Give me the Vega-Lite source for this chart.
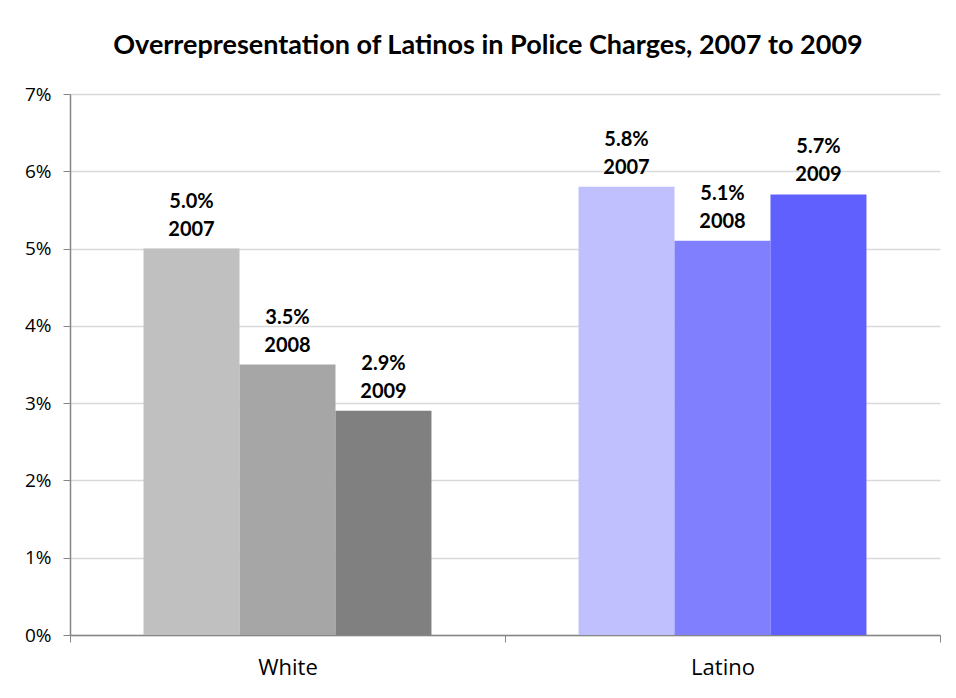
{
  "$schema": "https://vega.github.io/schema/vega-lite/v6.json",
  "width": 870,
  "height": 541,
  "autosize": {"type": "none"},
  "padding": {"left": 70, "top": 94, "right": 16, "bottom": 63},
  "background": "white",
  "title": {
    "text": "Overrepresentation of Latinos in Police Charges, 2007 to 2009",
    "font": "Lato",
    "fontSize": 27,
    "fontWeight": "bold",
    "color": "#000000",
    "anchor": "middle",
    "baseline": "alphabetic",
    "offset": 4,
    "dx": -17
  },
  "data": {
    "values": [
      {"group": "White", "year": "2007", "series": "White 2007", "value": 0.050, "pct": "5.0%"},
      {"group": "White", "year": "2008", "series": "White 2008", "value": 0.035, "pct": "3.5%"},
      {"group": "White", "year": "2009", "series": "White 2009", "value": 0.029, "pct": "2.9%"},
      {"group": "Latino", "year": "2007", "series": "Latino 2007", "value": 0.058, "pct": "5.8%"},
      {"group": "Latino", "year": "2008", "series": "Latino 2008", "value": 0.051, "pct": "5.1%"},
      {"group": "Latino", "year": "2009", "series": "Latino 2009", "value": 0.057, "pct": "5.7%"}
    ]
  },
  "encoding": {
    "x": {
      "field": "group",
      "type": "nominal",
      "sort": ["White", "Latino"],
      "scale": {"paddingInner": 0, "paddingOuter": 0},
      "axis": {
        "title": null,
        "labelAngle": 0,
        "labelFont": "Open Sans",
        "labelFontSize": 22,
        "labelColor": "#000000",
        "labelPadding": 15,
        "tickBand": "extent",
        "tickSize": 7,
        "tickColor": "#868686",
        "domainColor": "#868686",
        "domainWidth": 1.5,
        "grid": false
      }
    },
    "xOffset": {
      "field": "year",
      "type": "nominal",
      "scale": {"paddingInner": 0, "paddingOuter": 0.766}
    },
    "y": {
      "field": "value",
      "type": "quantitative",
      "scale": {"domain": [0, 0.07], "nice": false},
      "axis": {
        "title": null,
        "format": ".0%",
        "values": [0, 0.01, 0.02, 0.03, 0.04, 0.05, 0.06, 0.07],
        "labelFont": "Open Sans",
        "labelFontSize": 19,
        "labelColor": "#000000",
        "labelPadding": 12,
        "tickSize": 7,
        "tickColor": "#868686",
        "domainColor": "#868686",
        "domainWidth": 1.5,
        "gridColor": "#d9d9d9",
        "gridWidth": 1.5
      }
    }
  },
  "layer": [
    {
      "mark": {"type": "bar"},
      "encoding": {
        "color": {
          "field": "series",
          "type": "nominal",
          "scale": {
            "domain": ["White 2007", "White 2008", "White 2009", "Latino 2007", "Latino 2008", "Latino 2009"],
            "range": ["#c0c0c0", "#a6a6a6", "#808080", "#c0c0ff", "#8080ff", "#6060ff"]
          },
          "legend": null
        }
      }
    },
    {
      "mark": {"type": "text", "font": "Lato", "fontSize": 20, "fontWeight": "bold", "color": "#000000", "baseline": "alphabetic", "dy": -41},
      "encoding": {"text": {"field": "pct"}}
    },
    {
      "mark": {"type": "text", "font": "Lato", "fontSize": 20, "fontWeight": "bold", "color": "#000000", "baseline": "alphabetic", "dy": -13},
      "encoding": {"text": {"field": "year"}}
    }
  ],
  "config": {"view": {"stroke": null}}
}
